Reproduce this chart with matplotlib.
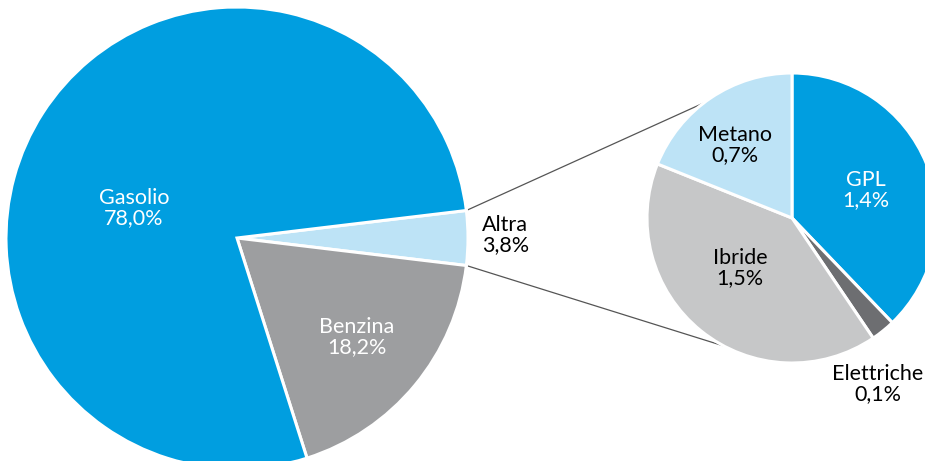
import numpy as np
import matplotlib
matplotlib.use("Agg")
import matplotlib.pyplot as plt

# quote di mercato per alimentazione
main_labels = ["Altra", "Benzina", "Gasolio"]
main_values = [3.8, 18.2, 78.0]
main_colors = ["#bde3f6", "#9d9ea0", "#009ee0"]
main_text_colors = ["black", "white", "white"]

# dettaglio della fetta "Altra"
sub_labels = ["GPL", "Elettriche", "Ibride", "Metano"]
sub_values = [1.4, 0.1, 1.5, 0.7]
sub_colors = ["#009ee0", "#6d6e71", "#c6c7c8", "#bde3f6"]
sub_text_colors = ["white", "black", "black", "black"]

W, H = 925, 461
plt.rcParams['font.family'] = ['Lato', 'DejaVu Sans']

fig = plt.figure(figsize=(W / 100, H / 100), dpi=100)
ax = fig.add_axes([0, 0, 1, 1])

def fmt(name, v):
    return f"{name}\n{v:.1f}%".replace(".", ",")

# torta principale, "Altra" centrata sull'orizzontale
c1 = (237, H - 238)
r1 = 231
start1 = main_values[0] / sum(main_values) * 360 / 2
ax.pie(main_values, colors=main_colors, center=c1, radius=r1,
       startangle=start1, counterclock=False, frame=True,
       wedgeprops=dict(edgecolor="white", linewidth=2.2))

# torta di dettaglio
c2 = (792, H - 218)
r2 = 145
ax.pie(sub_values, colors=sub_colors, center=c2, radius=r2,
       startangle=90, counterclock=False, frame=True,
       wedgeprops=dict(edgecolor="white", linewidth=2.2))

# linee di collegamento
for a1, a2 in [(start1, 127.5), (-start1, 242)]:
    p1 = (c1[0] + r1 * np.cos(np.radians(a1)), c1[1] + r1 * np.sin(np.radians(a1)))
    p2 = (c2[0] + r2 * np.cos(np.radians(a2)), c2[1] + r2 * np.sin(np.radians(a2)))
    ax.plot([p1[0], p2[0]], [p1[1], p2[1]], color="#555555", lw=0.9, zorder=0)

fs = 15.5
main_pos = [(482, 235), (357, 337), (134, 208)]
for name, v, col, (x, y) in zip(main_labels, main_values, main_text_colors, main_pos):
    ha = "left" if name == "Altra" else "center"
    ax.text(x, H - y, fmt(name, v), color=col, fontsize=fs, linespacing=1.05,
            ha=ha, va="center", multialignment="left" if ha == "left" else "center")

sub_pos = [(866, 190), (878, 384), (740, 268), (735, 145)]
for name, v, col, (x, y) in zip(sub_labels, sub_values, sub_text_colors, sub_pos):
    ax.text(x, H - y, fmt(name, v), color=col, fontsize=fs, linespacing=1.05,
            ha="center", va="center", multialignment="center")

ax.set_xlim(0, W)
ax.set_ylim(0, H)
ax.set_aspect("equal")
ax.axis("off")

fig.savefig("out.png", dpi=100)
